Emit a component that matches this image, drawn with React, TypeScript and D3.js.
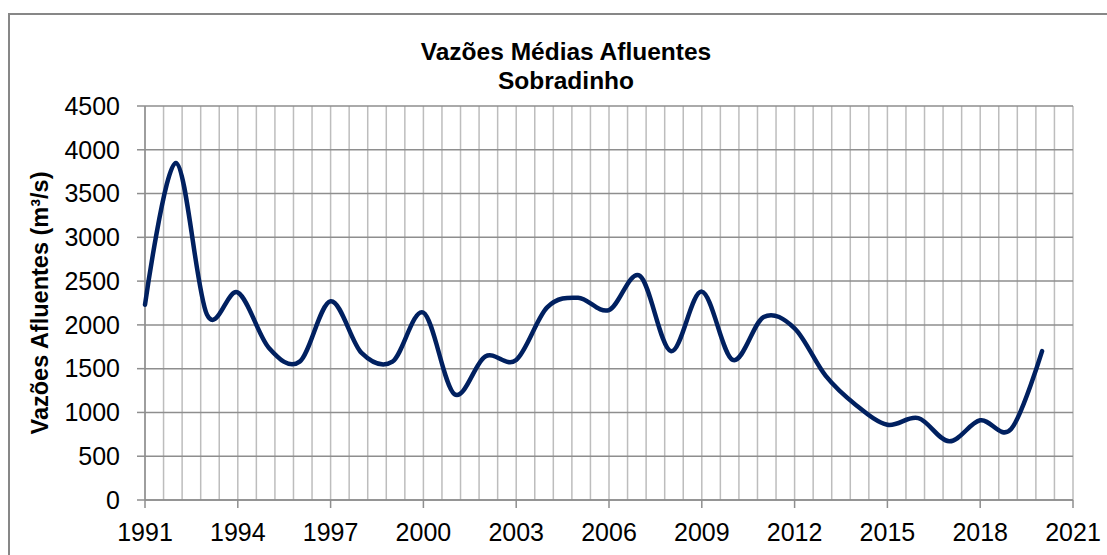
import React from "react";
import * as d3 from "d3";

// annual mean inflow, Sobradinho (m³/s)
const YEARS = d3.range(1991, 2021);
const FLOWS = [
  2230, 3850, 2120, 2370, 1740, 1580, 2270, 1680, 1580, 2140,
  1210, 1640, 1600, 2200, 2310, 2170, 2560, 1700, 2380, 1600,
  2090, 1960, 1420, 1080, 860, 935, 670, 910, 810, 1700
];
const X_TICKS = [1991, 1994, 1997, 2000, 2003, 2006, 2009, 2012, 2015, 2018, 2021];
const Y_TICKS = [0, 500, 1000, 1500, 2000, 2500, 3000, 3500, 4000, 4500];
// vertical grid every 0.6 year (5 per labelled step)
const X_GRID = d3.range(0, 51).map(k => 1991 + k * 0.6);

const TITLE = ["Vazões Médias Afluentes", "Sobradinho"];
const Y_LABEL = "Vazões Afluentes (m³/s)";

const W = 1107,
  H = 555;
const plot = { left: 145, right: 1073, top: 106, bottom: 500 };
const FONT = "'Liberation Sans', Arial, sans-serif";

export default function App() {
  const x = d3.scaleLinear().domain([1991, 2021]).range([plot.left, plot.right]);
  const y = d3.scaleLinear().domain([0, 4500]).range([plot.bottom, plot.top]);

  const points = YEARS.map((yr, i) => [yr, FLOWS[i]] as [number, number]);
  const line = d3
    .line<[number, number]>()
    .curve(d3.curveCardinal.tension(0))
    .x(d => x(d[0]))
    .y(d => y(d[1]));

  return (
    <svg
      width={W}
      height={H}
      style={{ position: "absolute", left: 0, top: 0, background: "#fff" }}
      fontFamily={FONT}
    >
      {/* chart border */}
      <rect x={9} y={14} width={1120} height={600} fill="none" stroke="#878787" strokeWidth={2} />

      {/* title */}
      <text x={566} y={60} textAnchor="middle" fontSize={24.5} fontWeight="bold">
        {TITLE[0]}
      </text>
      <text x={566} y={89} textAnchor="middle" fontSize={24.5} fontWeight="bold">
        {TITLE[1]}
      </text>

      {/* vertical grid */}
      {X_GRID.map((v, i) => (
        <line key={"vg" + i} x1={x(v)} x2={x(v)} y1={plot.top} y2={plot.bottom} stroke="#bdbdbd" strokeWidth={1.5} />
      ))}
      {/* horizontal grid */}
      {Y_TICKS.map(v => (
        <line key={"hg" + v} x1={plot.left} x2={plot.right} y1={y(v)} y2={y(v)} stroke="#8e8e8e" strokeWidth={1.5} />
      ))}

      {/* y axis */}
      <line x1={plot.left} x2={plot.left} y1={plot.top} y2={plot.bottom} stroke="#8e8e8e" strokeWidth={1.5} />
      {Y_TICKS.map(v => (
        <g key={"yt" + v}>
          <line x1={plot.left - 8} x2={plot.left} y1={y(v)} y2={y(v)} stroke="#8e8e8e" strokeWidth={1.5} />
          <text x={120} y={y(v)} dy="0.35em" textAnchor="end" fontSize={25}>
            {v}
          </text>
        </g>
      ))}

      {/* x axis */}
      <line x1={plot.left} x2={plot.right} y1={plot.bottom} y2={plot.bottom} stroke="#8e8e8e" strokeWidth={1.5} />
      {X_TICKS.map(v => (
        <g key={"xt" + v}>
          <line x1={x(v)} x2={x(v)} y1={plot.bottom} y2={plot.bottom + 8} stroke="#8e8e8e" strokeWidth={1.5} />
          <text x={x(v)} y={541} textAnchor="middle" fontSize={25}>
            {v}
          </text>
        </g>
      ))}

      {/* y label */}
      <text
        transform={`translate(48, ${(plot.top + plot.bottom) / 2}) rotate(-90)`}
        textAnchor="middle"
        fontSize={23.5}
        fontWeight="bold"
      >
        {Y_LABEL}
      </text>

      {/* series */}
      <path d={line(points) || ""} fill="none" stroke="#002060" strokeWidth={4.5} strokeLinejoin="round" strokeLinecap="round" />
    </svg>
  );
}
